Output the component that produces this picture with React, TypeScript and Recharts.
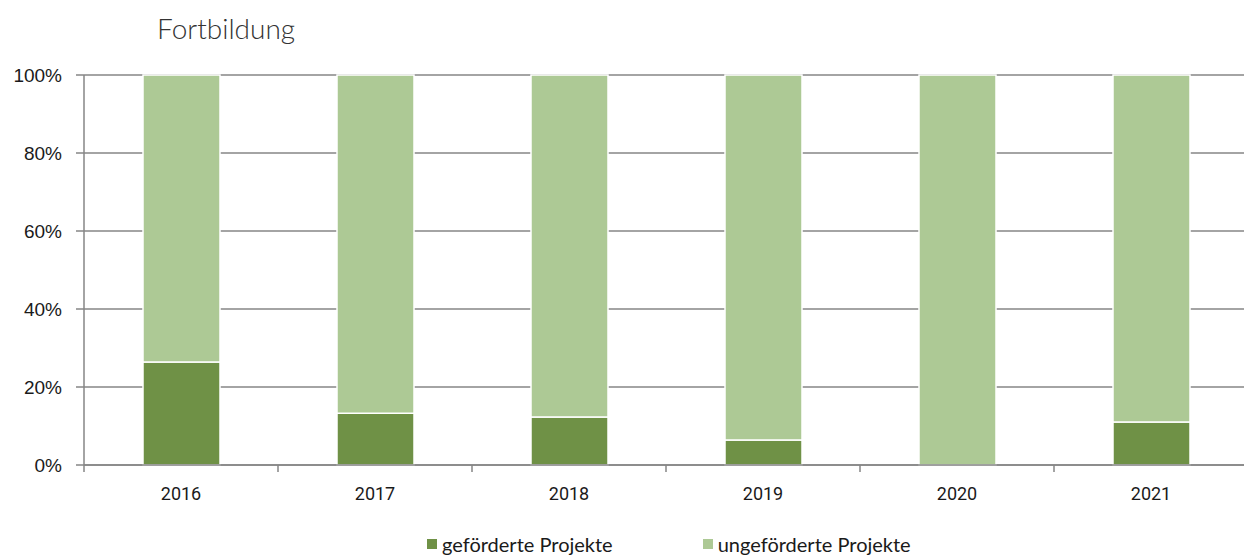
import React from "react";
import { BarChart, Bar, XAxis, YAxis, CartesianGrid, Legend } from "recharts";

const years = ["2016", "2017", "2018", "2019", "2020", "2021"];
const gefoerdert = [26.4, 13.3, 12.3, 6.4, 0, 11.0];
const ungefoerdert = [73.6, 86.7, 87.7, 93.6, 100, 89.0];
const yTicks = [0, 20, 40, 60, 80, 100];
const seriesNames = ["geförderte Projekte", "ungeförderte Projekte"];
const colors = ["#6f9146", "#adc995"];

const data = years.map((y, i) => ({ year: y, g: gefoerdert[i], u: ungefoerdert[i] }));

const GRID = "#868686";

const XTick = (props: any) => {
  const { x, y, payload } = props;
  const half = 97;
  return (
    <g>
      <line x1={x - half} x2={x - half} y1={y - 8} y2={y - 1} stroke={GRID} strokeWidth={1.5} />
      <text x={x} y={y + 27} textAnchor="middle" fontFamily="Roboto" fontSize={18} fill="#1a1a1a">
        {payload.value}
      </text>
    </g>
  );
};

const LegendContent = () => (
  <div style={{ display: "flex", justifyContent: "flex-start", paddingLeft: 427, fontFamily: "Lato", fontSize: 20, color: "#1a1a1a" }}>
    {seriesNames.map((n, i) => (
      <div key={n} style={{ display: "flex", alignItems: "center", marginRight: i === 0 ? 90 : 0 }}>
        <span style={{ display: "inline-block", width: 10, height: 10, background: colors[i], marginRight: 5 }} />
        <span>{n}</span>
      </div>
    ))}
  </div>
);

export default function App() {
  return (
    <div style={{ position: "absolute", left: 0, top: 0, width: 1244, height: 558, overflow: "hidden", background: "#fff" }}>
      <div style={{ position: "absolute", left: 157, top: 11, fontFamily: "Lato", fontWeight: 300, fontSize: 28, color: "#333" }}>
        Fortbildung
      </div>
      <BarChart
        width={1260}
        height={558}
        data={data}
        margin={{ top: 75, right: 12, bottom: 33, left: 0 }}
        barCategoryGap="20%"
      >
        <CartesianGrid vertical={false} stroke={GRID} strokeWidth={1.5} />
        <XAxis
          dataKey="year"
          tick={<XTick />}
          tickLine={false}
          axisLine={{ stroke: GRID, strokeWidth: 1.5 }}
          height={30}
          interval={0}
        />
        <YAxis
          domain={[0, 100]}
          ticks={yTicks}
          tickFormatter={(v: number) => `${v}%`}
          width={84}
          tick={{ fontFamily: "Liberation Sans", fontSize: 19, fill: "#1a1a1a" }}
          tickLine={{ stroke: GRID, strokeWidth: 1.5 }}
          tickSize={8}
          tickMargin={14}
          axisLine={{ stroke: GRID, strokeWidth: 1.5 }}
        />
        <Legend
          content={<LegendContent />}
          wrapperStyle={{ position: "absolute", left: 0, top: 532, width: 1244, height: 30 }}
        />
        <Bar dataKey="g" stackId="a" fill={colors[0]} stroke="#fff" strokeWidth={1.5} barSize={77} isAnimationActive={false} name={seriesNames[0]} />
        <Bar dataKey="u" stackId="a" fill={colors[1]} stroke="#fff" strokeWidth={1.5} barSize={77} isAnimationActive={false} name={seriesNames[1]} />
      </BarChart>
    </div>
  );
}
